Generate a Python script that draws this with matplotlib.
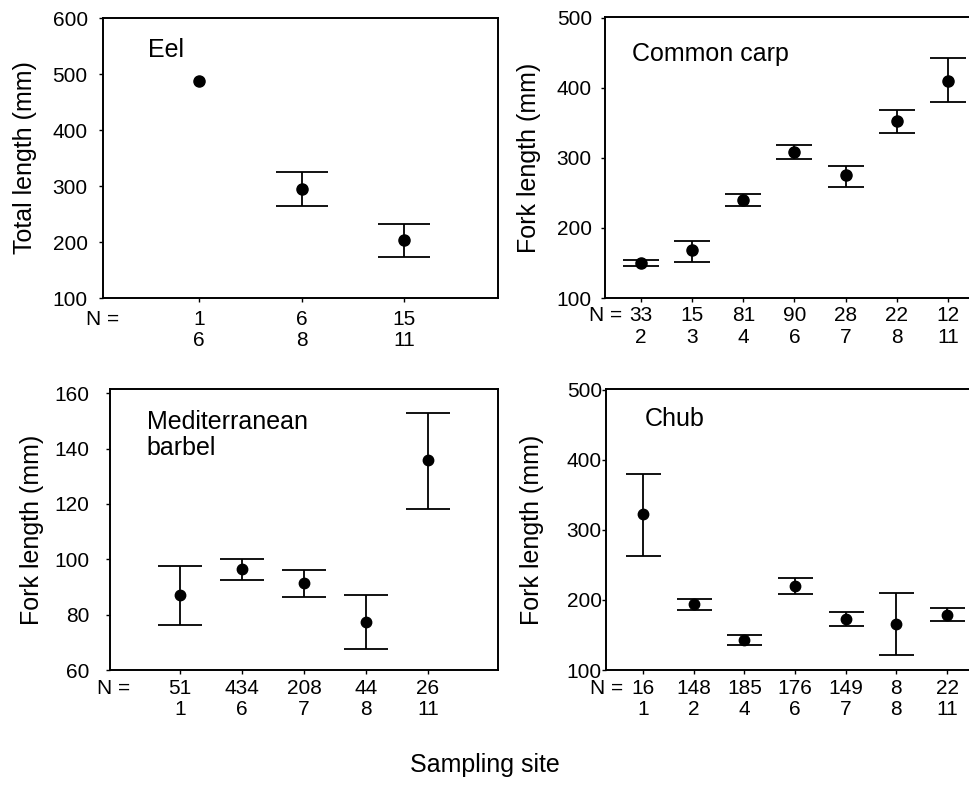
import matplotlib
matplotlib.use("Agg")
import matplotlib.pyplot as plt
import numpy as np

plt.rcParams['font.family'] = ['Liberation Sans', 'DejaVu Sans']

# ---- Data ----
eel_sites = ["6", "8", "11"]
eel_n = ["1", "6", "15"]
eel_mean = [487, 294, 203]
eel_lo = [487, 264, 174]
eel_hi = [487, 325, 233]

carp_sites = ["2", "3", "4", "6", "7", "8", "11"]
carp_n = ["33", "15", "81", "90", "28", "22", "12"]
carp_mean = [150, 168, 240, 309, 275, 352, 410]
carp_lo = [145, 152, 231, 299, 258, 336, 380]
carp_hi = [154, 182, 249, 319, 289, 368, 442]

barbel_sites = ["1", "6", "7", "8", "11"]
barbel_n = ["51", "434", "208", "44", "26"]
barbel_mean = [87.1, 96.4, 91.3, 77.5, 135.9]
barbel_lo = [76.3, 92.5, 86.5, 67.6, 118.0]
barbel_hi = [97.7, 100.1, 96.0, 87.1, 153.0]

chub_sites = ["1", "2", "4", "6", "7", "8", "11"]
chub_n = ["16", "148", "185", "176", "149", "8", "22"]
chub_mean = [322, 194, 143, 220, 173, 166, 179]
chub_lo = [262, 186, 135, 209, 163, 121, 170]
chub_hi = [380, 201, 150, 232, 183, 210, 189]

W, H = 970, 791
fig = plt.figure(figsize=(W / 100, H / 100), dpi=100)


def px_axes(left, top, right, bottom):
    return fig.add_axes([left / W, 1 - bottom / H, (right - left) / W, (bottom - top) / H])


def panel(ax, sites, ns, mean, lo, hi, ylim, yticks, xmargin_l, xmargin_r,
          capsize, title, tx, ty, ypad, nx, ms=7.5, xpad=4.5):
    x = np.arange(1, len(sites) + 1)
    mean = np.array(mean, dtype=float)
    lo = np.array(lo, dtype=float)
    hi = np.array(hi, dtype=float)
    has_err = hi > lo
    ax.errorbar(x[has_err], mean[has_err],
                yerr=[mean[has_err] - lo[has_err], hi[has_err] - mean[has_err]],
                fmt='none', ecolor='black', elinewidth=1.3, capsize=capsize, capthick=1.3)
    ax.plot(x, mean, 'o', color='black', ms=ms, zorder=3)
    ax.set_xlim(1 - xmargin_l, len(sites) + xmargin_r)
    ax.set_ylim(*ylim)
    ax.set_yticks(yticks)
    ax.set_xticks(x)
    ax.set_xticklabels([f"{n}\n{s}" for n, s in zip(ns, sites)], linespacing=1.15)
    ax.tick_params(axis='y', direction='out', length=3, width=1, pad=ypad, labelsize=15)
    ax.tick_params(axis='x', direction='out', length=3, width=1, pad=xpad, labelsize=15)
    for sp in ax.spines.values():
        sp.set_linewidth(1.4)
    ax.text(tx, ty, title, transform=ax.transAxes, fontsize=18, ha='left', va='top',
            linespacing=1.1)
    ax.annotate("N =", xy=(nx, 0), xycoords='axes fraction', xytext=(0, -(3 + xpad)),
                textcoords='offset points', ha='right', va='top', fontsize=15)


ax1 = px_axes(103, 18, 498, 298)
panel(ax1, eel_sites, eel_n, eel_mean, eel_lo, eel_hi, (100, 600),
      [100, 200, 300, 400, 500, 600], 0.94, 0.92, 19, "Eel", 0.114, 0.93, 8, 0.04,
      ms=8, xpad=5.5)

ax2 = px_axes(605, 17, 984, 298)
panel(ax2, carp_sites, carp_n, carp_mean, carp_lo, carp_hi, (100, 501),
      [100, 200, 300, 400, 500], 0.7, 0.7, 13.3, "Common carp", 0.071, 0.91, 6.5, 0.045,
      ms=8, xpad=3)

ax3 = px_axes(110, 389, 498, 670)
panel(ax3, barbel_sites, barbel_n, barbel_mean, barbel_lo, barbel_hi, (60, 161.5),
      [60, 80, 100, 120, 140, 160], 1.13, 1.13, 15.5, "Mediterranean\nbarbel",
      0.095, 0.925, 12, 0.052, ms=7.5, xpad=3.5)

ax4 = px_axes(606, 389, 984, 670)
panel(ax4, chub_sites, chub_n, chub_mean, chub_lo, chub_hi, (101, 501),
      [100, 200, 300, 400, 500], 0.73, 0.73, 12.6, "Chub", 0.103, 0.935, 0, 0.045,
      ms=7.5, xpad=3.5)

# y labels
fig.text(25 / W, 1 - 158 / H, "Total length (mm)", rotation=90, ha='center', va='center', fontsize=18)
fig.text(529 / W, 1 - 158 / H, "Fork length (mm)", rotation=90, ha='center', va='center', fontsize=18)
fig.text(32 / W, 1 - 530 / H, "Fork length (mm)", rotation=90, ha='center', va='center', fontsize=18)
fig.text(532 / W, 1 - 530 / H, "Fork length (mm)", rotation=90, ha='center', va='center', fontsize=18)

fig.text(485 / W, 1 - 765 / H, "Sampling site", ha='center', va='center', fontsize=18)

fig.savefig("out.png", dpi=100)
